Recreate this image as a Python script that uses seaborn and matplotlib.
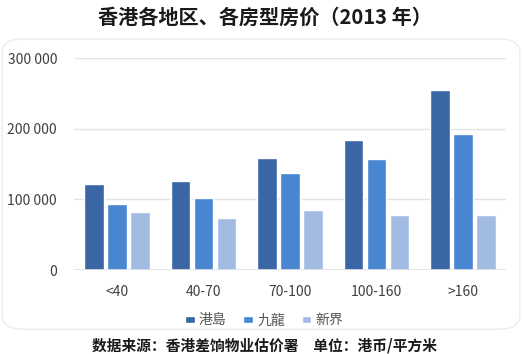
import matplotlib
matplotlib.use("Agg")
import matplotlib.pyplot as plt
import matplotlib.ticker as mticker
from matplotlib.patches import FancyBboxPatch
import seaborn as sns
import pandas as pd

categories = ["<40", "40-70", "70-100", "100-160", ">160"]
regions = ["港島", "九龍", "新界"]
hk_island = [122000, 125500, 158000, 184000, 254500]
kowloon = [94000, 102500, 137000, 157000, 192500]
new_territories = [82000, 74000, 84500, 78500, 78500]
colors = ["#3a66a6", "#4886d2", "#a2bbe2"]

title = "香港各地区、各房型房价（2013 年）"
footer = "数据来源：香港差饷物业估价署　单位：港币/平方米"

rows = []
for vals, reg in zip([hk_island, kowloon, new_territories], regions):
    for c, v in zip(categories, vals):
        rows.append({"size": c, "region": reg, "price": v})
df = pd.DataFrame(rows)

sns.set_theme(style="white")
plt.rcParams["font.family"] = ["Noto Sans CJK SC", "DejaVu Sans"]

fig = plt.figure(figsize=(5.23, 3.54), dpi=100)
fig.patch.set_facecolor("white")

# card background
card = FancyBboxPatch((0.004, 0.07), 0.99, 0.82,
                      boxstyle="round,pad=0,rounding_size=0.04",
                      transform=fig.transFigure, facecolor="white",
                      edgecolor="#ececec", linewidth=1.0, zorder=-10)
fig.patches.append(card)

ax = fig.add_axes([0.141, 0.237, 0.827, 0.599])
ax.set_facecolor("none")
sns.barplot(data=df, x="size", y="price", hue="region", order=categories,
            hue_order=regions, palette=colors, width=0.8, gap=0.14,
            saturation=1, ax=ax, zorder=3)

ax.set_ylim(0, 300000)
ax.set_xlim(-0.5, 4.5)
ax.yaxis.set_major_locator(mticker.MultipleLocator(100000))
ax.yaxis.set_major_formatter(mticker.FuncFormatter(
    lambda v, p: f"{int(v):,}".replace(",", " ")))
ax.grid(axis="y", color="#e4e4e8", linewidth=1.0, zorder=0)
for s in ["top", "right", "left", "bottom"]:
    ax.spines[s].set_visible(False)
ax.axhline(0, color="#e0e0e4", linewidth=1.2, zorder=4)
ax.tick_params(axis="y", length=0, pad=12, labelsize=10, labelcolor="#404040")
ax.tick_params(axis="x", length=0, pad=11, labelsize=10, labelcolor="#404040")
ax.set_xlabel("")
ax.set_ylabel("")

handles, labels = ax.get_legend_handles_labels()
ax.legend(handles, labels, loc="upper center", bbox_to_anchor=(0.44, -0.145),
          ncol=3, frameon=False, handlelength=0.7, handleheight=0.4,
          handletextpad=0.3, columnspacing=1.2,
          prop={"size": 10}, labelcolor="#555555")

fig.text(0.507, 0.952, title, ha="center", va="center", fontsize=14.5,
         fontweight="bold", color="#1a1a1a")
fig.text(0.505, 0.025, footer, ha="center", va="center", fontsize=10.6,
         fontweight="bold", color="#1a1a1a")

fig.savefig("out.png", dpi=100, facecolor="white")
